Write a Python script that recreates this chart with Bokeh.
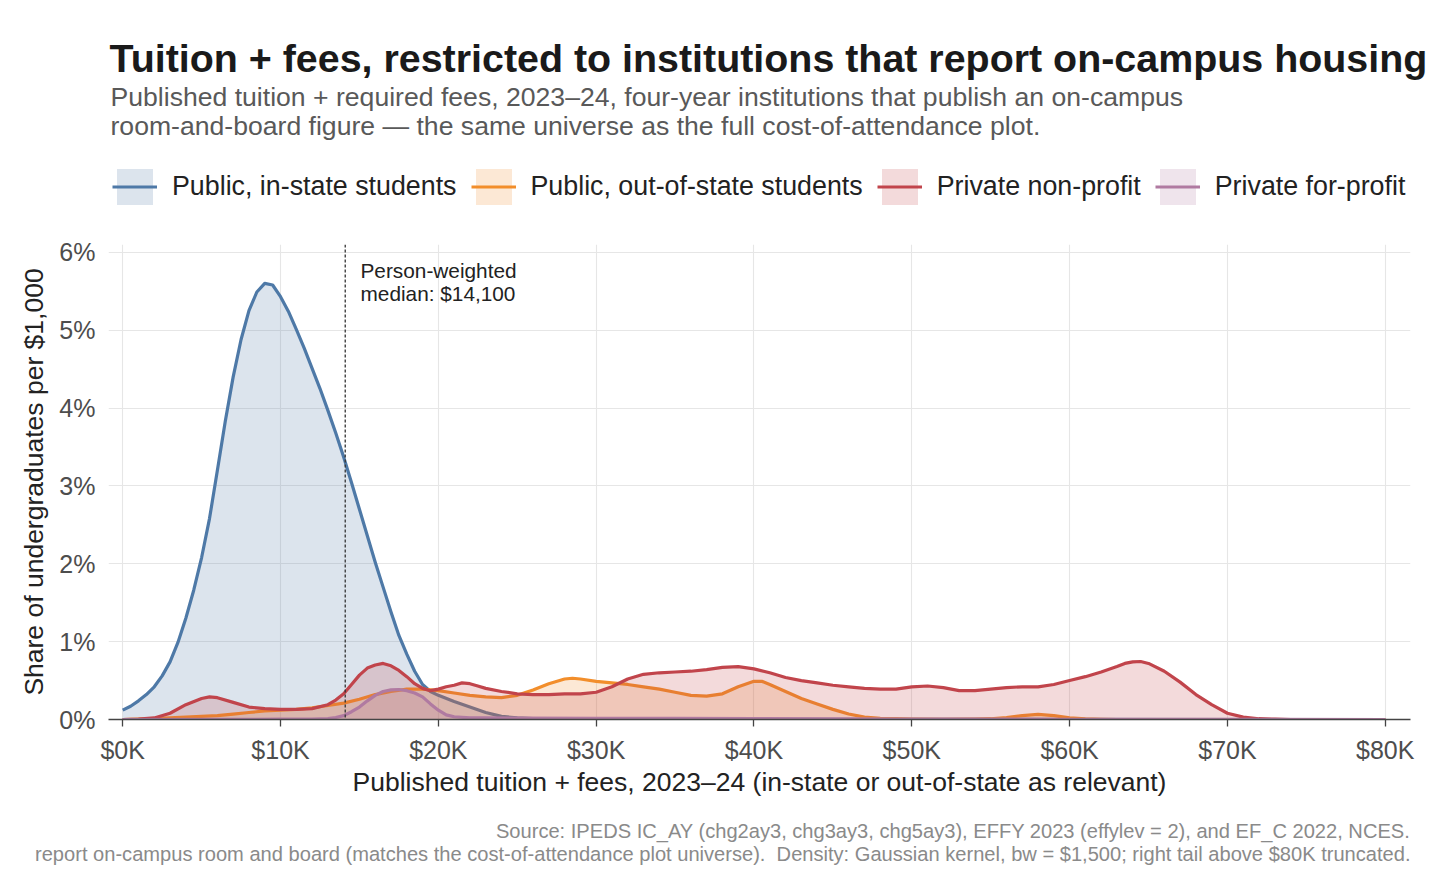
import numpy as np
from bokeh.plotting import figure
from bokeh.layouts import column
from bokeh.models import (Label, Legend, LegendItem, Span, FixedTicker, Range1d, Title)
from bokeh.embed import file_html
from bokeh.resources import INLINE

FONT = "Liberation Sans"

# ---------------- text ----------------
title_text = "Tuition + fees, restricted to institutions that report on-campus housing"
subtitle_lines = [
    "Published tuition + required fees, 2023\u201324, four-year institutions that publish an on-campus",
    "room-and-board figure \u2014 the same universe as the full cost-of-attendance plot.",
]
x_title = "Published tuition + fees, 2023\u201324 (in-state or out-of-state as relevant)"
y_title = "Share of undergraduates per $1,000"
annot_lines = ["Person-weighted", "median: $14,100"]
footer_lines = [
    "Source: IPEDS IC_AY (chg2ay3, chg3ay3, chg5ay3), EFFY 2023 (effylev = 2), and EF_C 2022, NCES.",
    "report on-campus room and board (matches the cost-of-attendance plot universe).\u00a0 Density: Gaussian kernel, bw = $1,500; right tail above $80K truncated.",
]

# ---------------- ticks ----------------
x_ticks = [0, 10, 20, 30, 40, 50, 60, 70, 80]
x_tick_labels = ["$0K", "$10K", "$20K", "$30K", "$40K", "$50K", "$60K", "$70K", "$80K"]
y_ticks = [0, 1, 2, 3, 4, 5, 6]
y_tick_labels = ["0%", "1%", "2%", "3%", "4%", "5%", "6%"]

# ---------------- series ----------------
series_names = ["Public, in-state students", "Public, out-of-state students",
                "Private non-profit", "Private for-profit"]
series_colors = ["#4e79a7", "#f28e2b", "#c1444b", "#b07aa1"]

median_k = 14.1

# Public, in-state ($K, % per $1K)
pub_in_x = [0, 0.5, 1, 1.5, 2, 2.5, 3, 3.5, 4, 4.5, 5, 5.5, 6, 6.5, 7, 7.5, 8, 8.5, 9, 9.5,
            10, 10.5, 11, 11.5, 12, 12.5, 13, 13.5, 14, 14.5, 15, 15.5, 16, 16.5, 17, 17.5,
            18, 18.5, 19, 19.5, 20, 21, 22, 23, 24, 25, 26, 28, 30, 40, 80]
pub_in_y = [0.12, 0.17, 0.24, 0.32, 0.42, 0.56, 0.74, 0.99, 1.30, 1.66, 2.08, 2.58, 3.20, 3.83,
            4.40, 4.88, 5.25, 5.49, 5.60, 5.58, 5.43, 5.24, 5.01, 4.77, 4.51, 4.25, 3.97, 3.68,
            3.37, 3.04, 2.70, 2.36, 2.02, 1.70, 1.38, 1.08, 0.84, 0.62, 0.45, 0.36, 0.31, 0.23,
            0.16, 0.09, 0.04, 0.02, 0.01, 0.004, 0.002, 0.001, 0.0]

# Public, out-of-state
pub_out_x = [0, 1, 2, 3, 4, 5, 6, 7, 8, 9, 10, 11, 12, 13, 14, 15, 16, 17, 18, 19, 20, 21, 22,
             23, 24, 25, 26, 27, 28, 28.5, 29, 30, 31, 32, 33, 34, 35, 36, 37, 38, 39, 40, 40.5,
             41, 42, 43, 44, 45, 46, 47, 48, 49, 50, 52, 54, 55, 56, 57, 58, 59, 60, 61, 62,
             63, 70, 80]
pub_out_y = [0.0, 0.005, 0.01, 0.02, 0.03, 0.04, 0.05, 0.07, 0.09, 0.11, 0.12, 0.13, 0.15, 0.18,
             0.21, 0.26, 0.32, 0.36, 0.39, 0.39, 0.37, 0.34, 0.31, 0.29, 0.28, 0.31, 0.38, 0.46,
             0.52, 0.53, 0.52, 0.49, 0.47, 0.45, 0.42, 0.39, 0.35, 0.31, 0.30, 0.33, 0.42, 0.49,
             0.49, 0.45, 0.36, 0.27, 0.20, 0.13, 0.07, 0.03, 0.015, 0.01, 0.005, 0.003, 0.005,
             0.01, 0.025, 0.05, 0.065, 0.05, 0.02, 0.008, 0.003, 0.0, 0.0, 0.0]

# Private non-profit
priv_np_x = [0, 1, 2, 3, 4, 5, 5.5, 6, 7, 8, 9, 10, 11, 12, 13, 13.5, 14, 14.5, 15, 15.5, 16,
             16.5, 17, 17.5, 18, 18.5, 19, 19.5, 20, 20.5, 21, 21.5, 22, 22.5, 23, 24, 25, 26,
             27, 28, 29, 30, 31, 32, 33, 34, 35, 36, 37, 38, 39, 40, 41, 42, 43, 44, 45, 46, 47,
             48, 49, 50, 51, 52, 53, 54, 55, 56, 57, 58, 59, 60, 61, 62, 63, 63.5, 64, 64.5, 65,
             66, 67, 68, 69, 70, 71, 72, 73, 74, 80]
priv_np_y = [0.0, 0.005, 0.02, 0.08, 0.19, 0.27, 0.29, 0.28, 0.22, 0.16, 0.14, 0.13, 0.13, 0.14,
             0.19, 0.25, 0.33, 0.45, 0.57, 0.66, 0.70, 0.72, 0.69, 0.63, 0.55, 0.46, 0.40, 0.37,
             0.39, 0.42, 0.44, 0.47, 0.46, 0.43, 0.40, 0.36, 0.33, 0.32, 0.32, 0.33, 0.33, 0.35,
             0.42, 0.52, 0.58, 0.60, 0.61, 0.62, 0.64, 0.67, 0.68, 0.65, 0.60, 0.54, 0.50, 0.47,
             0.44, 0.42, 0.40, 0.39, 0.39, 0.42, 0.43, 0.41, 0.37, 0.37, 0.39, 0.41, 0.42, 0.42,
             0.45, 0.50, 0.55, 0.61, 0.68, 0.72, 0.74, 0.745, 0.72, 0.62, 0.48, 0.32, 0.19, 0.08,
             0.03, 0.01, 0.005, 0.0, 0.0]

# Private for-profit
priv_fp_x = [0, 5, 10, 12, 13, 13.5, 14, 14.5, 15, 15.5, 16, 16.5, 17, 17.5, 18, 18.5, 19, 19.5,
             20, 20.5, 21, 22, 23, 25, 30, 35, 40, 45, 50, 60, 70, 80]
priv_fp_y = [0.0, 0.002, 0.004, 0.006, 0.012, 0.025, 0.05, 0.10, 0.16, 0.24, 0.31, 0.36, 0.38,
             0.385, 0.37, 0.34, 0.29, 0.20, 0.12, 0.06, 0.035, 0.022, 0.02, 0.018, 0.015, 0.015,
             0.012, 0.008, 0.005, 0.003, 0.002, 0.0]

series_x = [pub_in_x, pub_out_x, priv_np_x, priv_fp_x]
series_y = [pub_in_y, pub_out_y, priv_np_y, priv_fp_y]

# ---------------- geometry (page px) ----------------
W, H = 1440, 870
FL, FR, FT, FB = 108, 1410, 244, 719   # main frame edges
HEAD_H = 215                            # header figure height
HEAD_FRAME_TOP = 140                    # header frame top (titles stack above it)


def add_title(fig, text, side, size, color, bold=False, align="left", offset=0, standoff=0):
    fig.add_layout(Title(text=text, align=align, offset=offset, standoff=standoff,
                         vertical_align="middle", text_font=FONT, text_font_size=size,
                         text_font_style="bold" if bold else "normal",
                         text_color=color), side)


# ---------------- header: title, subtitle, legend ----------------
head = figure(width=W, height=HEAD_H, x_range=Range1d(0, 1), y_range=Range1d(0, 1),
              min_border_left=FL, min_border_right=W - FR, min_border_top=HEAD_FRAME_TOP,
              min_border_bottom=0, x_axis_location=None, y_axis_location=None,
              output_backend="svg", toolbar_location=None)
head.title.visible = False
head.outline_line_color = None
head.grid.visible = False
head.background_fill_color = "white"
head.border_fill_color = "white"

items = []
for name, col in zip(series_names, series_colors):
    # legend-key renderers (their own marks lie outside the header's visible range)
    ra = head.varea(x=[0, 1], y1=[-5, -5], y2=[-4, -4], fill_color=col, fill_alpha=0.2)
    rl = head.line(x=[0, 1], y=[-5, -5], line_color=col, line_width=3.2)
    items.append(LegendItem(label=name, renderers=[ra, rl]))

legend = Legend(items=items, orientation="horizontal", location=(4, HEAD_H - 208.5),
                glyph_width=45, glyph_height=45, label_standoff=15, spacing=14,
                padding=0, margin=0, border_line_color=None, background_fill_alpha=0,
                label_text_font=FONT, label_text_font_size="26.8px",
                label_text_color="#222222", label_height=45)
head.add_layout(legend)

add_title(head, subtitle_lines[1], "above", "26.6px", "#595959", offset=2, standoff=-2.7)
add_title(head, subtitle_lines[0], "above", "26.6px", "#595959", offset=2, standoff=-2.7)
add_title(head, title_text, "above", "39.4px", "#1a1a1a", bold=True, offset=1, standoff=3)

# ---------------- main plot ----------------
p = figure(width=W, height=H - HEAD_H, x_range=Range1d(-0.9, 81.6), y_range=Range1d(0, 6.1),
           output_backend="svg", toolbar_location=None,
           min_border_left=FL, min_border_right=W - FR,
           min_border_top=FT - HEAD_H, min_border_bottom=H - FB)
p.title.visible = False
p.outline_line_color = None
p.background_fill_color = "white"
p.border_fill_color = "white"

p.xaxis.ticker = FixedTicker(ticks=x_ticks)
p.yaxis.ticker = FixedTicker(ticks=y_ticks)
p.xaxis.major_label_overrides = {t: l for t, l in zip(x_ticks, x_tick_labels)}
p.yaxis.major_label_overrides = {t: l for t, l in zip(y_ticks, y_tick_labels)}

for ax in (p.xaxis, p.yaxis):
    ax.major_label_text_font = FONT
    ax.major_label_text_font_size = "25px"
    ax.major_label_text_color = "#4d4d4d"
    ax.minor_tick_line_color = None
    ax.axis_label_text_font = FONT
    ax.axis_label_text_font_size = "26.5px"
    ax.axis_label_text_font_style = "normal"
    ax.axis_label_text_color = "#222222"

p.xaxis.axis_label = x_title
p.yaxis.axis_label = y_title
p.xaxis.axis_label_standoff = 0
p.yaxis.axis_label_standoff = 7

p.xaxis.axis_line_color = "#444444"
p.xaxis.axis_line_width = 1.3
p.xaxis.major_tick_line_color = "#444444"
p.xaxis.major_tick_line_width = 1.3
p.xaxis.major_tick_in = 0
p.xaxis.major_tick_out = 7
p.xaxis.major_label_standoff = 9

p.yaxis.axis_line_color = None
p.yaxis.major_tick_line_color = None
p.yaxis.major_tick_in = 0
p.yaxis.major_tick_out = 0
p.yaxis.major_label_standoff = 13

p.xgrid.grid_line_color = "#e6e6e6"
p.ygrid.grid_line_color = "#e6e6e6"
p.xgrid.grid_line_width = 1.1
p.ygrid.grid_line_width = 1.1

for name, col, xs, ys in zip(series_names, series_colors, series_x, series_y):
    p.varea(x=xs, y1=[0] * len(xs), y2=ys, fill_color=col, fill_alpha=0.2)
    p.line(x=xs, y=ys, line_color=col, line_width=3.2, line_join="round")

p.add_layout(Span(location=median_k, dimension="height", line_color="#333333",
                  line_dash="3 2", line_width=1.3))

for txt, py in zip(annot_lines, [270, 293]):
    p.add_layout(Label(x=360 - FL, y=FB - py, x_units="screen", y_units="screen",
                       text=txt, text_font=FONT, text_font_size="20.8px",
                       text_color="#222222", text_baseline="middle"))

# ---------------- below: spacer + footer lines ----------------
add_title(p, " ", "below", "20px", "#ffffff", align="right", standoff=-4)
add_title(p, footer_lines[0], "below", "20.1px", "#8a8a8a", align="right", standoff=-1.5)
add_title(p, footer_lines[1], "below", "20.1px", "#8a8a8a", align="right", standoff=-1.5)

layout = column(head, p, spacing=0)
open("out.html", "w").write(file_html(layout, INLINE))
